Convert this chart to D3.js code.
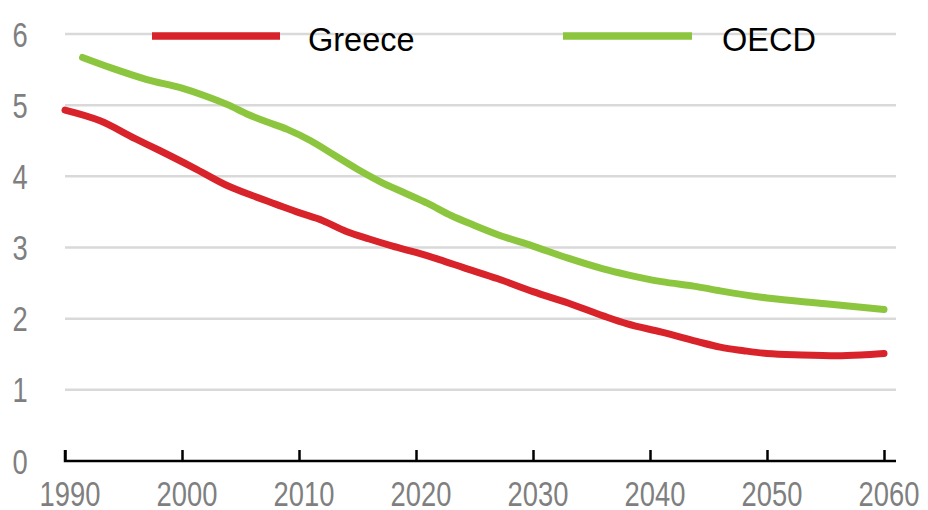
<!DOCTYPE html>
<html>
<head>
<meta charset="utf-8">
<script src="https://cdn.jsdelivr.net/npm/d3@7/dist/d3.min.js"></script>
<style>
  html, body { margin: 0; padding: 0; background: #fff; }
  svg { display: block; }
</style>
</head>
<body>
<svg id="chart" width="928" height="510"></svg>
<script>
const xTicks = [1990, 2000, 2010, 2020, 2030, 2040, 2050, 2060];
const yTicks = [0, 1, 2, 3, 4, 5, 6];
const seriesNames = ["Greece", "OECD"];
const seriesColors = ["#d9232b", "#8cc63f"];

const greeceYears = [1990, 1993, 1996, 1998, 2001, 2004, 2006, 2008, 2010, 2012, 2014, 2016, 2018, 2020, 2022, 2024, 2027, 2030, 2033, 2036, 2038, 2041, 2044, 2046, 2048, 2050, 2053, 2056, 2058, 2060];
const greeceValues = [4.93, 4.78, 4.53, 4.37, 4.12, 3.86, 3.73, 3.61, 3.49, 3.38, 3.23, 3.12, 3.02, 2.93, 2.83, 2.72, 2.56, 2.38, 2.22, 2.04, 1.93, 1.81, 1.68, 1.60, 1.55, 1.51, 1.49, 1.48, 1.49, 1.51];

const oecdYears = [1991.5, 1994, 1997, 2000, 2002, 2004, 2005.5, 2007, 2009, 2011, 2013, 2015, 2017, 2019, 2021, 2023, 2025, 2027, 2030, 2033, 2036, 2038, 2041, 2044, 2046, 2050, 2055, 2060];
const oecdValues = [5.67, 5.52, 5.36, 5.24, 5.13, 5.00, 4.88, 4.78, 4.66, 4.50, 4.30, 4.10, 3.92, 3.77, 3.62, 3.45, 3.31, 3.18, 3.02, 2.85, 2.70, 2.62, 2.52, 2.45, 2.39, 2.29, 2.21, 2.13];

const series = [
  { name: seriesNames[0], color: seriesColors[0], data: greeceYears.map((y, i) => ({ x: y, y: greeceValues[i] })) },
  { name: seriesNames[1], color: seriesColors[1], data: oecdYears.map((y, i) => ({ x: y, y: oecdValues[i] })) }
];

const svg = d3.select("#chart");
const x = d3.scaleLinear().domain([1990, 2060]).range([65, 884]);
const y = d3.scaleLinear().domain([0, 6]).range([461, 34]);
const gridRight = 896;
const tickFont = "'Liberation Sans', Arial, sans-serif";
const narrow = 0.76;
const tickSize = 36;

// gridlines
svg.append("g").selectAll("line")
  .data(yTicks.filter(d => d > 0))
  .join("line")
  .attr("x1", x(1990)).attr("x2", gridRight)
  .attr("y1", d => y(d)).attr("y2", d => y(d))
  .attr("stroke", "#d9d9d9").attr("stroke-width", 2.5);

// y labels
svg.append("g").selectAll("text")
  .data(yTicks)
  .join("text")
  .attr("transform", d => `translate(20,${y(d)}) scale(${narrow},1)`)
  .attr("dy", "0.35em")
  .attr("text-anchor", "middle")
  .attr("font-family", tickFont)
  .attr("font-size", tickSize)
  .attr("fill", "#7f7f7f")
  .text(d => d);

// x axis
const xAxis = d3.axisTop(x).tickValues(xTicks).tickSize(11).tickFormat("");
const gx = svg.append("g").attr("transform", `translate(0,${y(0)})`).call(xAxis);
gx.select(".domain").attr("d", `M${x(1990)},-11V0H${gridRight}`).attr("stroke", "#000").attr("stroke-width", 2.5);
gx.selectAll(".tick line").attr("stroke", "#000").attr("stroke-width", 2.5);

svg.append("g").selectAll("text")
  .data(xTicks)
  .join("text")
  .attr("transform", d => `translate(${x(d) + 5},506) scale(${narrow},1)`)
  .attr("text-anchor", "middle")
  .attr("font-family", tickFont)
  .attr("font-size", tickSize)
  .attr("fill", "#7f7f7f")
  .text(d => d);

// lines
const line = d3.line().x(d => x(d.x)).y(d => y(d.y)).curve(d3.curveMonotoneX);
svg.append("g").selectAll("path")
  .data(series)
  .join("path")
  .attr("d", d => line(d.data))
  .attr("fill", "none")
  .attr("stroke", d => d.color)
  .attr("stroke-width", 7)
  .attr("stroke-linecap", "round")
  .attr("stroke-linejoin", "round");

// legend
const legendPos = [{ x1: 152, x2: 280, tx: 308 }, { x1: 563, x2: 692, tx: 722 }];
const lg = svg.append("g").selectAll("g").data(series).join("g");
lg.append("line")
  .attr("x1", (d, i) => legendPos[i].x1).attr("x2", (d, i) => legendPos[i].x2)
  .attr("y1", 36).attr("y2", 36)
  .attr("stroke", d => d.color).attr("stroke-width", 7.5);
lg.append("text")
  .attr("x", (d, i) => legendPos[i].tx).attr("y", 51)
  .attr("font-family", "'Liberation Sans', Arial, sans-serif")
  .attr("font-size", 32.5)
  .attr("fill", "#000")
  .text(d => d.name);
</script>
</body>
</html>
